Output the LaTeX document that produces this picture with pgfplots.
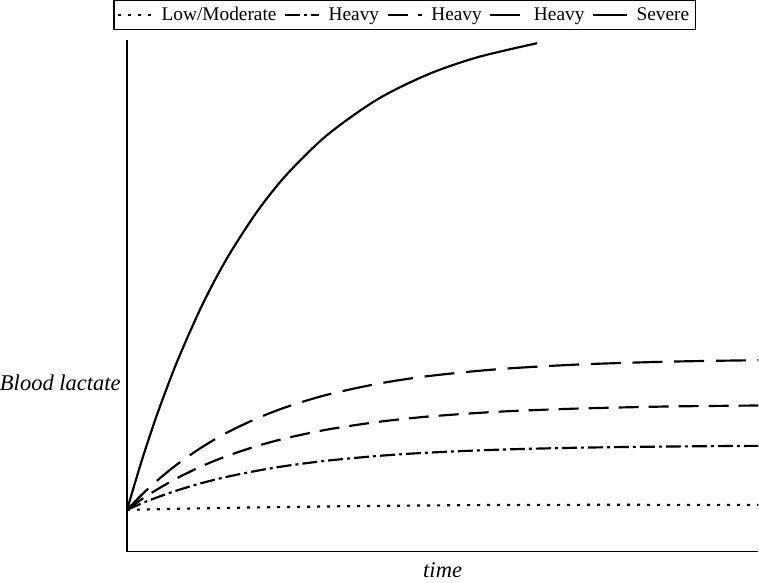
\documentclass[border=0pt]{standalone}
\usepackage{pgfplots}
\pgfplotsset{compat=1.18}
\usepackage{fontspec}
\setmainfont{Liberation Serif}

\begin{document}
\begin{tikzpicture}
\begin{axis}[
    scale only axis,
    width=378.6pt, height=307pt,
    xmin=0, xmax=631, ymin=0, ymax=514,
    axis x line=bottom, axis y line=left,
    axis line style={-, line width=0.9pt},
    xtick=\empty, ytick=\empty,
    xlabel={\textit{time}},
    ylabel={\textit{Blood lactate}},
    label style={font=\fontsize{13.5}{16}\selectfont},
    xlabel style={inner sep=3pt, yshift=-1pt},
    ylabel style={rotate=-90, anchor=east, inner sep=0pt, at={(axis description cs:0,0.33)}, xshift=-3.6pt},
    legend columns=-1,
    legend style={at={(axis description cs:0.44,1.019)}, anchor=south,
        draw=black, line width=0.9pt, font=\fontsize{11.6}{14}\selectfont,
        inner sep=1.8pt,
        /tikz/every odd column/.append style={column sep=3pt},
        /tikz/every even column/.append style={column sep=2.5pt}},
    legend image code/.code={\draw[#1] (0cm,0cm) -- (0.72cm,0cm);},
    every axis plot/.append style={black, line width=1.3pt, smooth},
]
\addplot[dash pattern=on 1.8pt off 4.2pt] coordinates {(0,42) (100,44) (250,46) (400,47) (631,47)};
\addlegendentry{Low/Moderate}
\addplot[dash pattern=on 9pt off 2.4pt on 1.8pt off 2.4pt] coordinates {
    (0,42) (15,48.6) (30,54.5) (50,61.5) (75,69.0) (100,75.2) (130,81.3) (160,86.3)
    (200,91.4) (250,96.1) (300,99.4) (370,102.4) (450,104.4) (540,105.6) (631,106.3)};
\addlegendentry{Heavy}
\addplot[dash pattern=on 12pt off 6pt] coordinates {
    (0,42) (15,52.8) (30,62.4) (50,73.8) (75,86.0) (100,96.1) (130,106.1) (160,114.2)
    (200,122.6) (250,130.2) (300,135.6) (370,140.5) (450,143.7) (540,145.8) (631,146.8)};
\addlegendentry{Heavy}
\addplot[dash pattern=on 18pt off 7pt] coordinates {
    (0,42) (15,57.4) (30,71.3) (50,87.6) (75,105.0) (100,119.6) (130,133.9) (160,145.5)
    (200,157.6) (250,168.5) (300,176.2) (370,183.2) (450,187.9) (540,190.8) (631,192.3)};
\addlegendentry{Heavy}
\addplot[solid] coordinates {
    (0,42) (15,92.2) (30,137.5) (50,190.6) (75,247.3) (100,294.7) (130,341.4) (160,379.1)
    (200,418.3) (250,454.0) (300,478.9) (350,496.4) (410,510.6)};
\addlegendentry{Severe}
\end{axis}
\end{tikzpicture}
\end{document}
